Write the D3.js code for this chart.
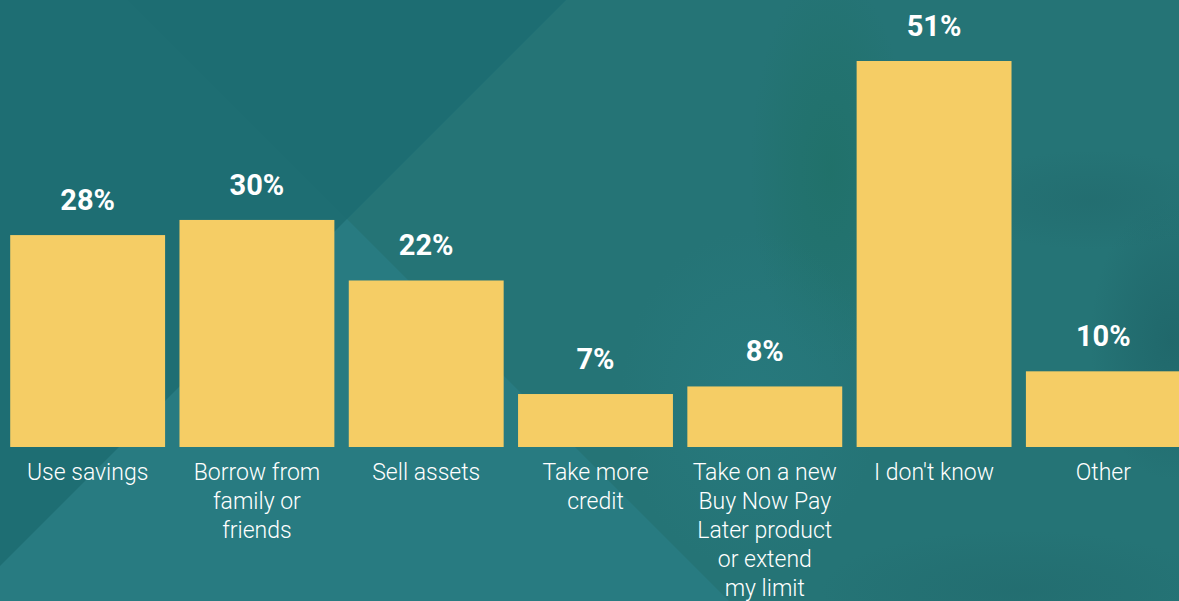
<!DOCTYPE html>
<html>
<head>
<meta charset="utf-8">
<script src="https://cdn.jsdelivr.net/npm/d3@7"></script>
<style>
  html, body { margin: 0; padding: 0; background: #1f6f74; }
  svg { display: block; }
</style>
</head>
<body>
<svg id="chart" width="1179" height="601"></svg>
<script>
// Survey answers: what people would do to cover an unexpected cost
const categories = [
  "Use savings",
  "Borrow from family or friends",
  "Sell assets",
  "Take more credit",
  "Take on a new Buy Now Pay Later product or extend my limit",
  "I don't know",
  "Other"
];
const labelLines = [
  ["Use savings"],
  ["Borrow from", "family or", "friends"],
  ["Sell assets"],
  ["Take more", "credit"],
  ["Take on a new", "Buy Now Pay", "Later product", "or extend", "my limit"],
  ["I don't know"],
  ["Other"]
];
const values = [28, 30, 22, 7, 8, 51, 10];

const W = 1179, H = 601;
const svg = d3.select("#chart");

// ---- background: teal panels split by two diagonals, plus a soft photo wash on the right
const defs = svg.append("defs");
function radial(id, color, opacity) {
  const g = defs.append("radialGradient").attr("id", id);
  g.append("stop").attr("offset", "0%").attr("stop-color", color).attr("stop-opacity", opacity);
  g.append("stop").attr("offset", "55%").attr("stop-color", color).attr("stop-opacity", opacity * 0.5);
  g.append("stop").attr("offset", "100%").attr("stop-color", color).attr("stop-opacity", 0);
}
radial("gGreen", "#1f7066", 0.75);
radial("gLight", "#287b80", 0.7);
radial("gDark", "#1d6064", 0.6);
radial("gDeep", "#21686b", 0.5);

const bg = svg.append("g");
bg.append("rect").attr("width", W).attr("height", H).attr("fill", "#1e6e73");
// lower-left light panel (below the x+y=566 diagonal)
bg.append("polygon")
  .attr("points", `566,0 ${W},0 ${W},${H} 0,${H} 0,566`)
  .attr("fill", "#287b81");
// right wedge beyond the x-y=128 diagonal
bg.append("polygon")
  .attr("points", `566,0 ${W},0 ${W},${H} 729,${H} 347,219`)
  .attr("fill", "#257476");
// top-left wedge between the two diagonals
bg.append("polygon")
  .attr("points", `128,0 566,0 347,219`)
  .attr("fill", "#1d6d72");

// photo wash: soft radial patches inside the right wedge
const wash = bg.append("g");
wash.append("clipPath").attr("id", "wedge").append("polygon")
  .attr("points", `566,0 ${W},0 ${W},${H} 729,${H} 347,219`);
wash.attr("clip-path", "url(#wedge)");
wash.append("ellipse").attr("cx", 830).attr("cy", 170).attr("rx", 80).attr("ry", 200).attr("fill", "url(#gGreen)");
wash.append("ellipse").attr("cx", 750).attr("cy", 400).attr("rx", 130).attr("ry", 170).attr("fill", "url(#gLight)");
wash.append("ellipse").attr("cx", 1170).attr("cy", 340).attr("rx", 80).attr("ry", 140).attr("fill", "url(#gDark)");
wash.append("ellipse").attr("cx", 1020).attr("cy", 590).attr("rx", 200).attr("ry", 60).attr("fill", "url(#gDeep)");
wash.append("ellipse").attr("cx", 1090).attr("cy", 200).attr("rx", 130).attr("ry", 50).attr("fill", "url(#gDeep)");

// ---- scales
const x = d3.scaleBand()
  .domain(categories)
  .range([3, 1188])
  .paddingInner(0.085)
  .paddingOuter(0.0425);

const baseY = 447;
const y = d3.scaleLinear()
  .domain([0, 51])
  .range([baseY, 61]);

// ---- bars
svg.append("g").selectAll("rect")
  .data(values)
  .join("rect")
  .attr("x", (d, i) => x(categories[i]))
  .attr("y", d => y(d))
  .attr("width", x.bandwidth())
  .attr("height", d => baseY - y(d))
  .attr("fill", "#f5cd65");

// ---- value labels
svg.append("g").selectAll("text")
  .data(values)
  .join("text")
  .attr("x", (d, i) => x(categories[i]) + x.bandwidth() / 2)
  .attr("y", d => y(d) - 25)
  .attr("text-anchor", "middle")
  .attr("fill", "#ffffff")
  .attr("font-family", "Roboto, 'Open Sans', sans-serif")
  .attr("font-weight", 700)
  .attr("font-size", 29)
  .text(d => d + "%");

// ---- category axis
const axis = svg.append("g")
  .attr("transform", `translate(0,${baseY})`)
  .call(d3.axisBottom(x).tickSize(0).tickFormat(""));
axis.select(".domain").remove();

axis.selectAll(".tick text")
  .attr("fill", "#ffffff")
  .attr("font-family", "Roboto, 'Open Sans', sans-serif")
  .attr("font-weight", 300)
  .attr("font-size", 23)
  .attr("text-anchor", "middle")
  .attr("y", 33)
  .attr("dy", null)
  .each(function (d) {
    const lines = labelLines[categories.indexOf(d)];
    const t = d3.select(this);
    lines.forEach((ln, j) => {
      t.append("tspan").attr("x", 0).attr("y", 33 + j * 29).text(ln);
    });
  });
</script>
</body>
</html>
